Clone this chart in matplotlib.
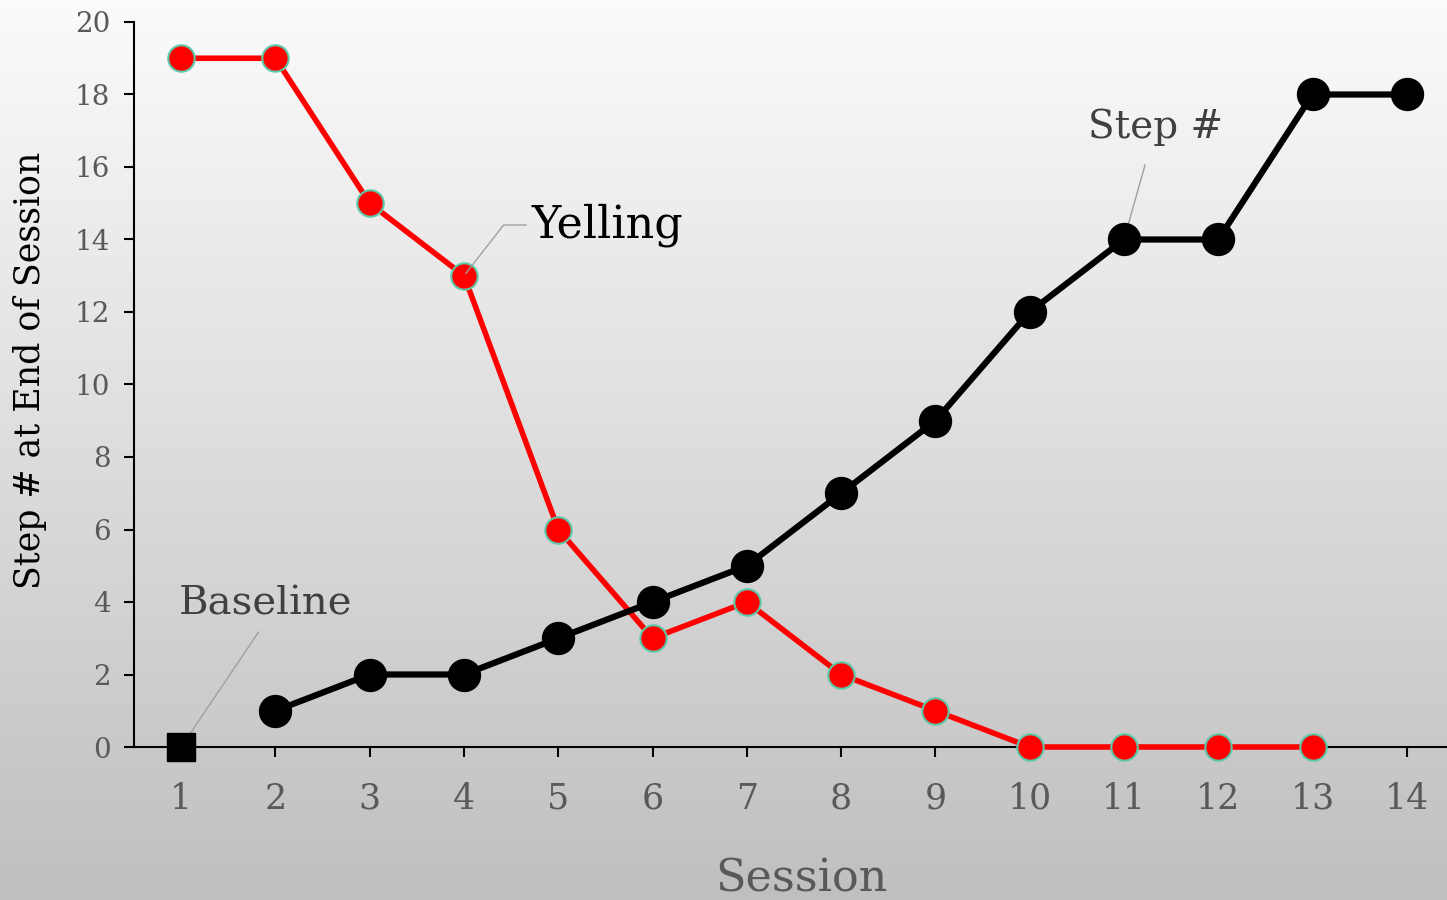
import numpy as np
import matplotlib
matplotlib.use("Agg")
import matplotlib.pyplot as plt

# session data
sessions = list(range(1, 15))
baseline_session = [1]
baseline_step = [0]
step_sessions = list(range(2, 15))
step_values = [1, 2, 2, 3, 4, 5, 7, 9, 12, 14, 14, 18, 18]
yell_sessions = list(range(1, 14))
yell_values = [19, 19, 15, 13, 6, 3, 4, 2, 1, 0, 0, 0, 0]
y_ticks = list(range(0, 21, 2))

plt.rcParams['font.family'] = ['DejaVu Serif']

fig = plt.figure(figsize=(14.47, 9.0), dpi=100)

# vertical gradient background
bg = fig.add_axes([0, 0, 1, 1], zorder=-1)
grad = np.linspace(0, 1, 256).reshape(-1, 1)
bg.imshow(grad, aspect='auto', cmap=matplotlib.colors.LinearSegmentedColormap.from_list(
    'bg', ['#fbfbfb', '#bfbfbf']), extent=[0, 1, 0, 1])
bg.axis('off')

ax = fig.add_axes([134 / 1447, 0.17, 1320 / 1447, 725 / 900])
ax.patch.set_alpha(0)

ax.plot(yell_sessions, yell_values, color='red', lw=4, marker='o', ms=19,
        mfc='red', mec='#5cc8a8', mew=1.5, clip_on=False, zorder=3)
ax.plot(step_sessions, step_values, color='black', lw=4.5, marker='o', ms=23,
        mfc='black', mec='black', clip_on=False, zorder=4)
ax.plot(baseline_session, baseline_step, color='black', marker='s', ms=20,
        ls='none', clip_on=False, zorder=5)

ax.set_xlim(0.5, 14.5)
ax.set_ylim(0, 20)
ax.set_xticks(sessions)
ax.set_yticks(y_ticks)
ax.tick_params(axis='x', labelsize=25, colors='black', labelcolor='#595959',
               length=7, width=1.5, pad=18)
ax.tick_params(axis='y', labelsize=20, colors='black', labelcolor='#595959',
               length=7, width=1.5, pad=10)
for side in ['top', 'right']:
    ax.spines[side].set_visible(False)
for side in ['left', 'bottom']:
    ax.spines[side].set_linewidth(1.5)

ax.set_xlabel('Session', fontsize=32, color='#595959')
ax.xaxis.set_label_coords(0.506, -0.152)
ax.set_ylabel('Step # at End of Session', fontsize=25, color='black')
ax.yaxis.set_label_coords(-0.066, 0.52)

# leader-line callouts
ax.annotate('Yelling', xy=(4, 13), xytext=(4.72, 14.4), fontsize=32,
            color='black', va='center', ha='left',
            arrowprops=dict(arrowstyle='-', color='#a0a0a0', lw=1,
                            connectionstyle='angle,angleA=0,angleB=52,rad=0'))
ax.annotate('Step #', xy=(11, 14), xytext=(10.62, 17.1), fontsize=28,
            color='#404040', va='center', ha='left',
            arrowprops=dict(arrowstyle='-', color='#a0a0a0', lw=1, shrinkA=12))
ax.annotate('Baseline', xy=(1, 0), xytext=(0.97, 3.95), fontsize=29,
            color='#404040', va='center', ha='left',
            arrowprops=dict(arrowstyle='-', color='#a0a0a0', lw=1,
                            relpos=(0.5, 0), shrinkA=6, shrinkB=0))

fig.savefig('out.png', dpi=100)
